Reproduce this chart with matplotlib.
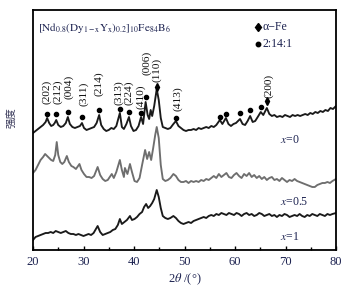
import matplotlib
matplotlib.use("Agg")
import matplotlib.pyplot as plt

plt.rcParams["font.family"] = ["Liberation Serif", "DejaVu Serif"]
plt.rcParams["mathtext.fontset"] = "stix"

# ── data (2θ in degrees, intensity in a.u.) ──────────────────────────────────
tth_x0 = [20.0, 20.5, 21.0, 21.5, 22.0, 22.5, 22.8, 23.2, 23.6, 24.0, 24.3, 24.6,
          25.0, 25.5, 26.0, 26.5, 26.9, 27.3, 27.8, 28.3, 28.8, 29.3, 29.7, 30.1,
          30.6, 31.1, 31.6, 32.1, 32.6, 33.1, 33.5, 34.0, 34.5, 35.0, 35.5, 36.0,
          36.5, 37.2, 37.6, 38.0, 38.5, 39.0, 39.4, 39.9, 40.4, 40.9, 41.4, 41.8,
          42.3, 42.7, 43.0, 43.3, 43.6, 44.0, 44.5, 44.9, 45.3, 45.7, 46.2, 46.7,
          47.2, 47.8, 48.3, 48.8, 49.3, 49.8, 50.3, 50.8, 51.3, 51.8, 52.3, 52.8,
          53.3, 53.8, 54.3, 54.8, 55.3, 55.8, 56.3, 57.0, 57.5, 58.2, 58.7, 59.2,
          59.7, 60.2, 61.0, 61.5, 62.0, 62.5, 63.0, 63.5, 64.0, 64.5, 65.1, 65.6,
          66.3, 66.8, 67.3, 67.8, 68.3, 68.9, 69.4, 69.9, 70.4, 70.9, 71.4, 71.9,
          72.4, 72.9, 73.4, 73.9, 74.4, 74.9, 75.4, 75.9, 76.4, 76.9, 77.4, 77.9,
          78.4, 78.9, 79.4, 80.0]
int_x0 = [117, 119, 121, 123, 125, 128, 132, 127, 124, 125, 127, 130,
          125, 123, 124, 127, 133, 126, 123, 122, 123, 124, 127, 122,
          120, 121, 122, 123, 127, 135, 125, 121, 119, 120, 122, 121,
          124, 137, 123, 121, 126, 133, 124, 119, 120, 124, 133, 126,
          148, 135, 131, 140, 134, 144, 161, 150, 132, 123, 122, 121,
          122, 126, 129, 124, 122, 120, 119, 120, 120, 121, 120, 122,
          121, 122, 123, 122, 124, 123, 125, 130, 126, 132, 126, 124,
          126, 127, 131, 126, 125, 129, 134, 128, 129, 133, 138, 135,
          142, 136, 134, 135, 133, 134, 133, 135, 134, 133, 135, 134,
          135, 134, 135, 136, 135, 137, 136, 138, 137, 139, 138, 140,
          139, 142, 141, 144]

tth_x05 = [20.0, 20.5, 21.0, 21.5, 22.0, 22.4, 22.8, 23.2, 23.6, 24.0, 24.4, 24.7,
           25.0, 25.4, 25.8, 26.2, 26.7, 27.1, 27.6, 28.0, 28.5, 29.2, 29.6, 30.1,
           30.6, 31.1, 31.6, 32.1, 32.8, 33.3, 33.8, 34.3, 34.8, 35.2, 35.6, 36.0,
           36.5, 37.2, 37.6, 38.0, 38.2, 38.7, 39.2, 39.6, 40.1, 40.6, 41.1, 41.6,
           42.2, 42.6, 43.0, 43.4, 43.8, 44.2, 44.5, 44.9, 45.3, 45.7, 46.2, 46.7,
           47.2, 47.8, 48.3, 48.8, 49.3, 49.8, 50.3, 50.8, 51.3, 51.8, 52.3, 52.8,
           53.3, 53.8, 54.3, 54.8, 55.3, 55.8, 56.3, 56.8, 57.3, 57.8, 58.3, 58.8,
           59.3, 59.8, 60.3, 60.8, 61.3, 61.8, 62.3, 62.8, 63.3, 63.8, 64.3, 64.8,
           65.3, 65.8, 66.3, 66.8, 67.3, 67.8, 68.3, 68.8, 69.3, 69.8, 70.3, 70.8,
           71.3, 71.8, 72.3, 72.8, 73.3, 73.8, 74.3, 74.8, 75.3, 75.8, 76.3, 76.8,
           77.3, 77.8, 78.3, 78.8, 79.3, 80.0]
int_x05 = [77, 80, 85, 90, 93, 96, 94, 92, 90, 89, 95, 108,
           95, 88, 86, 88, 94, 88, 84, 83, 81, 86, 80, 76,
           73, 73, 72, 74, 83, 75, 71, 69, 70, 73, 76, 72,
           78, 90, 80, 73, 82, 76, 86, 78, 69, 68, 72, 85,
           100, 91, 98, 90, 102, 115, 123, 112, 85, 71, 69, 70,
           72, 76, 74, 70, 68, 68, 69, 67, 69, 68, 69, 68,
           70, 69, 71, 70, 72, 74, 72, 76, 73, 75, 77, 73,
           72, 75, 77, 74, 72, 76, 74, 77, 73, 75, 72, 74,
           71, 73, 70, 72, 73, 70, 71, 69, 72, 70, 68, 70,
           69, 71, 69, 68, 67, 66, 65, 64, 63, 63, 65, 66,
           67, 67, 68, 67, 69, 71]

tth_x1 = [20.0, 20.5, 21.0, 21.5, 22.0, 22.5, 23.0, 23.5, 24.0, 24.5, 25.0, 25.5,
          26.0, 26.5, 27.0, 27.5, 28.0, 28.5, 29.0, 29.5, 30.0, 30.5, 31.0, 31.5,
          32.0, 32.8, 33.3, 33.8, 34.3, 34.8, 35.3, 35.8, 36.3, 36.8, 37.2, 37.6,
          38.1, 38.6, 39.2, 39.6, 40.1, 40.6, 41.1, 41.6, 42.0, 42.4, 42.8, 43.2,
          43.6, 44.0, 44.5, 44.9, 45.3, 45.7, 46.2, 46.7, 47.2, 47.8, 48.3, 48.8,
          49.3, 49.8, 50.3, 50.8, 51.3, 51.8, 52.3, 52.8, 53.3, 53.8, 54.3, 54.8,
          55.3, 55.8, 56.3, 56.8, 57.3, 57.8, 58.3, 58.8, 59.3, 59.8, 60.3, 60.8,
          61.3, 61.8, 62.3, 62.8, 63.3, 63.8, 64.3, 64.8, 65.3, 65.8, 66.3, 66.8,
          67.3, 67.8, 68.3, 68.8, 69.3, 69.8, 70.3, 70.8, 71.3, 71.8, 72.3, 72.8,
          73.3, 73.8, 74.3, 74.8, 75.3, 75.8, 76.3, 76.8, 77.3, 77.8, 78.3, 78.8,
          79.3, 80.0]
int_x1 = [10, 13, 14, 15, 16, 17, 17, 18, 17, 19, 18, 17,
          18, 19, 17, 16, 16, 15, 16, 15, 14, 15, 16, 15,
          17, 24, 18, 15, 16, 17, 18, 20, 21, 25, 31, 26,
          28, 30, 34, 30, 31, 33, 36, 38, 43, 46, 42, 44,
          47, 51, 60, 53, 42, 34, 32, 31, 32, 34, 32, 29,
          27, 26, 27, 28, 27, 29, 30, 31, 32, 33, 32, 34,
          35, 34, 36, 35, 37, 36, 35, 37, 36, 35, 37, 36,
          34, 36, 37, 35, 36, 34, 35, 37, 36, 34, 35, 36,
          34, 35, 33, 35, 34, 36, 35, 33, 34, 35, 34, 36,
          34, 33, 35, 34, 36, 35, 34, 36, 35, 34, 36, 35,
          36, 37]

# reflections of the 2:14:1 phase (dots) and alpha-Fe (diamonds)
dot_tth = [22.8, 24.6, 26.9, 29.7, 33.1, 37.2, 39.0, 41.4, 42.3, 48.3,
           57.0, 58.2, 61.0, 63.0, 65.1]
dot_int = [136, 136, 138, 133, 140, 141, 138, 137, 153, 132,
           133, 136, 137, 140, 143]
fe_tth = [44.55, 66.3]
fe_int = [163, 149]

hkl_labels = ["(202)", "(212)", "(004)", "(311)", "(214)", "(313)", "(224)",
              "(410)", "(006)", "(110)", "(413)", "(200)"]
hkl_tth = [22.8, 24.8, 27.1, 30.0, 33.0, 37.0, 38.9, 41.3, 42.6, 44.4, 48.6, 66.6]
hkl_int = [146, 146, 151, 144, 154, 145, 145, 141, 175, 168, 139, 152]

TEXT = "#1c2250"

# ── figure ───────────────────────────────────────────────────────────────────
fig = plt.figure(figsize=(3.53, 2.93), dpi=100)
ax = fig.add_axes([33 / 353, 43 / 293, 303 / 353, 240 / 293])

ax.plot(tth_x0, int_x0, color="#1a1a1a", lw=1.35)
ax.plot(tth_x05, int_x05, color="#6e6e6e", lw=1.35)
ax.plot(tth_x1, int_x1, color="#1a1a1a", lw=1.35)

ax.plot(dot_tth, dot_int, "o", color="black", ms=3.0, ls="none")
ax.plot(fe_tth, fe_int, "d", color="black", ms=4.0, ls="none")

for lab, t, h in zip(hkl_labels, hkl_tth, hkl_int):
    ax.text(t, h, lab, rotation=90, ha="center", va="bottom",
            fontsize=8.2, color="#111111")

# marker key
ax.plot([64.55], [223], "d", color="black", ms=4.5)
ax.text(65.4, 223, "α−Fe", fontsize=8.5, va="center", color=TEXT)
ax.plot([64.55], [206], "o", color="black", ms=3.2)
ax.text(65.4, 206, "2:14:1", fontsize=8.5, va="center", color=TEXT)

ax.text(21.0, 222,
        r"$\mathrm{[Nd_{0.8}(Dy_{1-x}Y_{x})_{0.2}]_{10}Fe_{84}B_{6}}$",
        fontsize=8, va="center", ha="left", color=TEXT)

for lab, h in [("0", 110), ("0.5", 48), ("1", 13)]:
    ax.text(68.9, h, r"$x$=" + lab, fontsize=8.5, va="center", ha="left",
            color=TEXT)

ax.set_xlim(20, 80)
ax.set_ylim(0, 240)
ax.set_xticks(range(20, 81, 10))
ax.set_xticks(range(25, 80, 10), minor=True)
ax.set_yticks([])
ax.tick_params(axis="x", which="major", direction="in", length=3, width=1,
               labelsize=9, labelcolor=TEXT, pad=4)
ax.tick_params(axis="x", which="minor", direction="in", length=2, width=1)
for sp in ax.spines.values():
    sp.set_linewidth(1.3)

ax.set_xlabel(r"2$\theta$ /(°)", fontsize=9, color=TEXT, labelpad=3)
ax.set_ylabel("强度", fontsize=7.5, color="#333355",
              family=["Noto Sans CJK SC", "DejaVu Sans"], labelpad=6)
ax.yaxis.set_label_coords(-0.05, 0.55)

fig.savefig("out.png", dpi=100)
